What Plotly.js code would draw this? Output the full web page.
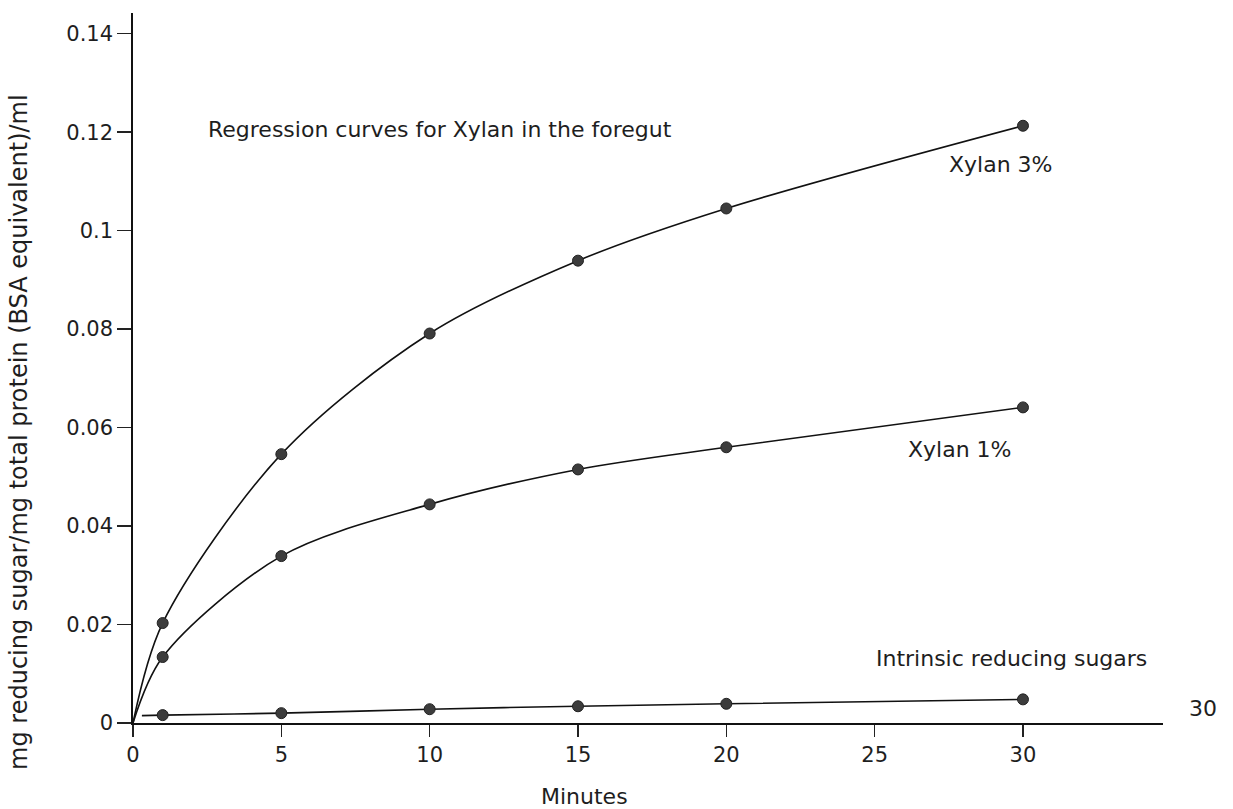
<!DOCTYPE html>
<html>
<head>
<meta charset="utf-8">
<script src="https://cdn.plot.ly/plotly-3.0.1.min.js"></script>
<style>html,body{margin:0;padding:0;background:#fff;}#chart{width:1233px;height:809px;}</style>
</head>
<body>
<div id="chart"></div>
<script>
// Sampling times (minutes)
const minutes = [1, 5, 10, 15, 20, 30];
// Measured values (mg reducing sugar / mg total protein per ml)
const xylan3 = [0.0203, 0.0546, 0.0791, 0.0939, 0.1045, 0.1213];
const xylan1 = [0.0134, 0.0339, 0.0444, 0.0515, 0.0560, 0.0641];
const intrinsic = [0.0016, 0.0020, 0.0028, 0.0034, 0.0039, 0.0048];
// Start points of the drawn regression curves
const xylanCurveStartX = 0, xylanCurveStartY = 0;
const intrinsicCurveStartX = 0.3, intrinsicCurveStartY = 0.0015;
// Axis ticks
const xTicks = [0, 5, 10, 15, 20, 25, 30];
const yTicks = [0, 0.02, 0.04, 0.06, 0.08, 0.1, 0.12, 0.14];
const yTickText = ["0", "0.02", "0.04", "0.06", "0.08", "0.1", "0.12", "0.14"];

const FONT = "DejaVu Sans, Liberation Sans, Arial, sans-serif";
const TXT = "#1e1e1e";
const lineStyle = {color: "#111", width: 1.6, shape: "spline", smoothing: 0.9};
const markerStyle = {color: "#3c3c3c", size: 11, line: {color: "#222", width: 1}};

function curve(sx, sy, ys) {
  return {x: [sx].concat(minutes), y: [sy].concat(ys), mode: "lines", line: lineStyle, hoverinfo: "skip", showlegend: false};
}
function pts(ys) {
  return {x: minutes, y: ys, mode: "markers", marker: markerStyle, showlegend: false};
}

const traces = [
  curve(xylanCurveStartX, xylanCurveStartY, xylan3),
  curve(xylanCurveStartX, xylanCurveStartY, xylan1),
  curve(intrinsicCurveStartX, intrinsicCurveStartY, intrinsic),
  pts(xylan3), pts(xylan1), pts(intrinsic)
];

const annFont = {family: FONT, size: 22, color: TXT};
const tickFont = {family: FONT, size: 21, color: TXT};
const layout = {
  width: 1233, height: 809,
  margin: {l: 133, r: 70, t: 13, b: 86},
  paper_bgcolor: "#ffffff", plot_bgcolor: "#ffffff",
  font: {family: FONT, size: 21, color: TXT},
  xaxis: {
    range: [0, 34.72], tickvals: xTicks, ticktext: xTicks.map(String),
    ticks: "outside", ticklen: 12, tickwidth: 1.4, tickcolor: "#222",
    showline: true, linecolor: "#111", linewidth: 1.7,
    showgrid: false, zeroline: false, tickfont: tickFont
  },
  yaxis: {
    range: [0, 0.1442], tickvals: yTicks, ticktext: yTickText,
    ticks: "outside", ticklen: 14, tickwidth: 1.4, tickcolor: "#222",
    showline: true, linecolor: "#111", linewidth: 1.7,
    showgrid: false, zeroline: false, tickfont: tickFont
  },
  annotations: [
    {text: "Minutes", xref: "x", yref: "paper", x: 15.23, y: -0.104, showarrow: false, font: annFont, xanchor: "center", yanchor: "middle"},
    {text: "mg reducing sugar/mg total protein (BSA equivalent)/ml", xref: "paper", yref: "paper", x: -0.1107, y: 0.41, textangle: -90, showarrow: false, font: {family: FONT, size: 24, color: TXT}, xanchor: "center", yanchor: "middle"},
    {text: "Regression curves for Xylan in the foregut", xref: "x", yref: "y", x: 2.45, y: 0.1205, showarrow: false, font: annFont, xanchor: "left", yanchor: "middle"},
    {text: "Xylan 3%", xref: "x", yref: "y", x: 29.25, y: 0.1134, showarrow: false, font: annFont, xanchor: "center", yanchor: "middle"},
    {text: "Xylan 1%", xref: "x", yref: "y", x: 27.87, y: 0.0556, showarrow: false, font: annFont, xanchor: "center", yanchor: "middle"},
    {text: "Intrinsic reducing sugars", xref: "x", yref: "y", x: 29.6, y: 0.013, showarrow: false, font: annFont, xanchor: "center", yanchor: "middle"},
    {text: "30", xref: "paper", yref: "y", x: 1.039, y: 0.003, showarrow: false, font: annFont, xanchor: "center", yanchor: "middle"}
  ]
};

Plotly.newPlot("chart", traces, layout, {staticPlot: true, displayModeBar: false});
</script>
</body>
</html>
